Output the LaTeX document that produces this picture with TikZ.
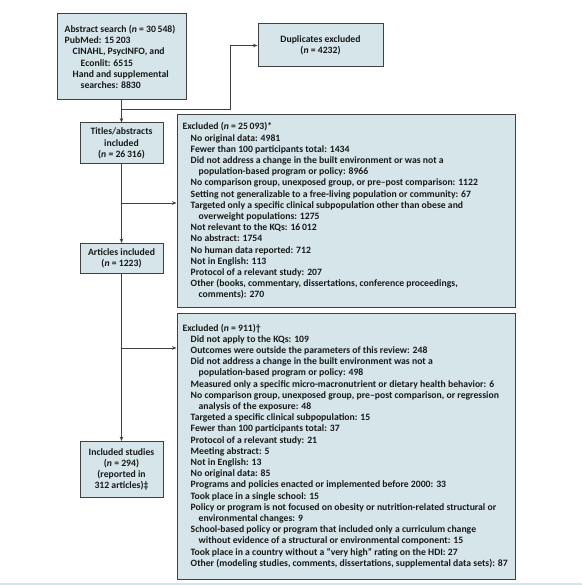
\documentclass[tikz,border=0pt]{standalone}
\usepackage{fontspec}
\setmainfont{Carlito}
\usetikzlibrary{arrows.meta}
\definecolor{boxfill}{HTML}{D5E5E9}
\definecolor{boxline}{HTML}{404040}
\definecolor{baserule}{HTML}{CFE6EA}
\newcommand{\xitem}{\hspace*{8pt}}
\newcommand{\xcont}{\hspace*{16pt}}
\begin{document}
\begin{tikzpicture}[x=1pt,y=-1pt,
  txt/.style={font=\fontsize{9.7}{11.2}\selectfont\bfseries, text=black!90},
  box/.style={draw=boxline, line width=1pt, fill=boxfill, inner sep=0pt},
  cbox/.style={box, txt, align=center},
  ltext/.style={txt, align=left, inner sep=0pt, anchor=west},
  conn/.style={draw=boxline, line width=0.8pt},
  arr/.style={conn, -{Stealth[length=4.5pt,width=3.6pt]}}]
\useasboundingbox (0,0) rectangle (582,585);

% boxes
\node[box, minimum width=129pt, minimum height=86pt] (abs) at (121.5,57) {};
\node[ltext] (abstxt) at ([xshift=8pt]abs.west) {%
Abstract search (\textit{n} = 30\,548)\\
PubMed: 15\,203\\
\xitem CINAHL, PsycINFO, and\\
\xcont Econlit: 6515\\
\xitem Hand and supplemental\\
\xcont searches: 8830};

\node[cbox, minimum width=125pt, minimum height=43pt] (dup) at (320.5,45.5)
  {Duplicates excluded\\(\textit{n} = 4232)};

\node[cbox, minimum width=83pt, minimum height=41pt] (tit) at (121.5,143.5)
  {Titles/abstracts\\included\\(\textit{n} = 26\,316)};

\node[cbox, minimum width=83pt, minimum height=30pt] (art) at (121.5,258.5)
  {Articles included\\(\textit{n} = 1223)};

\node[cbox, minimum width=83pt, minimum height=56pt] (inc) at (121.5,469.5)
  {Included studies\\(\textit{n} = 294)\\(reported in\\312 articles)\textdaggerdbl};

\node[box, minimum width=338pt, minimum height=192pt] (ex1) at (346,211) {};
\node[ltext] (ex1txt) at ([xshift=6pt]ex1.west) {%
Excluded (\textit{n} = 25\,093)*\\
\xitem No original data: 4981\\
\xitem Fewer than 100 participants total: 1434\\
\xitem Did not address a change in the built environment or was not a\\
\xcont population-based program or policy: 8966\\
\xitem No comparison group, unexposed group, or pre--post comparison: 1122\\
\xitem Setting not generalizable to a free-living population or community: 67\\
\xitem Targeted only a specific clinical subpopulation other than obese and\\
\xcont overweight populations: 1275\\
\xitem Not relevant to the KQs: 16\,012\\
\xitem No abstract: 1754\\
\xitem No human data reported: 712\\
\xitem Not in English: 113\\
\xitem Protocol of a relevant study: 207\\
\xitem Other (books, commentary, dissertations, conference proceedings,\\
\xcont comments): 270};

\node[box, minimum width=338pt, minimum height=266pt] (ex2) at (346,446) {};
\node[ltext] (ex2txt) at ([xshift=6pt]ex2.west) {%
Excluded (\textit{n} = 911)\textdagger\\
\xitem Did not apply to the KQs: 109\\
\xitem Outcomes were outside the parameters of this review: 248\\
\xitem Did not address a change in the built environment was not a\\
\xcont population-based program or policy: 498\\
\xitem Measured only a specific micro-macronutrient or dietary health behavior: 6\\
\xitem No comparison group, unexposed group, pre--post comparison, or regression\\
\xcont analysis of the exposure: 48\\
\xitem Targeted a specific clinical subpopulation: 15\\
\xitem Fewer than 100 participants total: 37\\
\xitem Protocol of a relevant study: 21\\
\xitem Meeting abstract: 5\\
\xitem Not in English: 13\\
\xitem No original data: 85\\
\xitem Programs and policies enacted or implemented before 2000: 33\\
\xitem Took place in a single school: 15\\
\xitem Policy or program is not focused on obesity or nutrition-related structural or\\
\xcont environmental changes: 9\\
\xitem School-based policy or program that included only a curriculum change\\
\xcont without evidence of a structural or environmental component: 15\\
\xitem Took place in a country without a ``very high'' rating on the HDI: 27\\
\xitem Other (modeling studies, comments, dissertations, supplemental data sets): 87};

% connectors
\coordinate (b0) at (121.5,109);
\coordinate (c0) at (230,45.5);
\coordinate (b1) at (121.5,203);
\coordinate (b2) at (121.5,348);
\draw[arr] (abs) -- (tit);
\draw[arr] (b0) -| (c0) -- (dup.west);
\draw[arr] (tit) -- (art);
\draw[arr] (b1) -- (b1 -| ex1.west);
\draw[arr] (art) -- (inc);
\draw[arr] (b2) -- (b2 -| ex2.west);

% base rule
\draw[baserule, line width=2pt] (0,584) -- (582,584);
\end{tikzpicture}
\end{document}
